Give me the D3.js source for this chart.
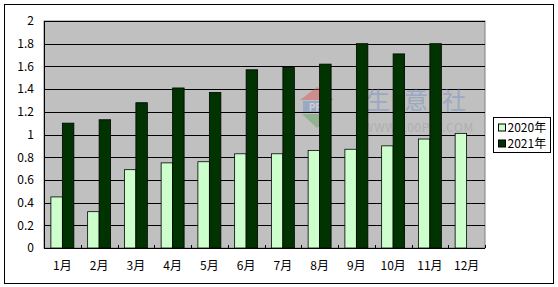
<!DOCTYPE html>
<html>
<head>
<meta charset="utf-8">
<script src="https://cdn.jsdelivr.net/npm/d3@7"></script>
<style>
  body { margin: 0; background: #fff; }
  text { font-family: "Noto Sans CJK SC", "DejaVu Sans", sans-serif; }
</style>
</head>
<body>
<div id="chart"></div>
<script>
// data
const months = ["1月", "2月", "3月", "4月", "5月", "6月", "7月", "8月", "9月", "10月", "11月", "12月"];
const series = ["2020年", "2021年"];
const values2020 = [0.45, 0.32, 0.69, 0.75, 0.76, 0.83, 0.83, 0.86, 0.87, 0.9, 0.96, 1.01];
const values2021 = [1.1, 1.13, 1.28, 1.41, 1.37, 1.57, 1.59, 1.62, 1.8, 1.71, 1.8, null];
const yTicks = [0, 0.2, 0.4, 0.6, 0.8, 1, 1.2, 1.4, 1.6, 1.8, 2];

const width = 558;
const height = 287;
const plot = { left: 44, right: 485, top: 21, bottom: 248 };
const colors = ["#CCFFCC", "#003300"];

const svg = d3
  .select("#chart")
  .append("svg")
  .attr("width", width)
  .attr("height", height);

// outer frame
svg.append("rect")
  .attr("x", 4.5).attr("y", 4.5)
  .attr("width", 549).attr("height", 279)
  .attr("fill", "#fff")
  .attr("stroke", "#000");

const x = d3.scaleBand()
  .domain(months)
  .range([plot.left, plot.right])
  .paddingInner(0.375)
  .paddingOuter(0.1875);

const xs = d3.scaleBand().domain(series).range([0, x.bandwidth()]);

const y = d3.scaleLinear().domain([0, 2]).range([plot.bottom, plot.top]);

// plot background
svg.append("rect")
  .attr("x", plot.left).attr("y", plot.top)
  .attr("width", plot.right - plot.left)
  .attr("height", plot.bottom - plot.top)
  .attr("fill", "#C0C0C0")
  .attr("stroke", "#808080");

// gridlines
svg.append("g")
  .selectAll("line")
  .data(yTicks.filter((d) => d > 0))
  .enter()
  .append("line")
  .attr("x1", plot.left).attr("x2", plot.right)
  .attr("y1", (d) => Math.round(y(d)) + 0.5)
  .attr("y2", (d) => Math.round(y(d)) + 0.5)
  .attr("stroke", "#000");

// watermark (faint, behind the bars)
const wm = svg.append("g").attr("opacity", 0.45);
wm.append("path").attr("d", "M300,100 L317,87 L334,100 Z").attr("fill", "#d9534f");
wm.append("rect").attr("x", 303).attr("y", 101).attr("width", 28).attr("height", 11).attr("fill", "#6a8cc7");
wm.append("text").attr("x", 317).attr("y", 110.5).attr("text-anchor", "middle")
  .attr("font-size", 10).attr("font-weight", "bold").attr("fill", "#e0e0e0").text("PPI");
wm.append("path").attr("d", "M302,114 L332,114 L317,128 Z").attr("fill", "#5aa55a");
wm.append("text").attr("x", 366).attr("y", 109).attr("font-size", 24)
  .attr("letter-spacing", 14).attr("fill", "#6a8cc7").text("生意社");
wm.append("text").attr("x", 363).attr("y", 132).attr("font-size", 12)
  .attr("letter-spacing", 0.6).attr("fill", "#9a9a9a").text("WWW.100PPI.COM");

// bars
const rows = months.map((m, i) => ({ month: m, vals: [values2020[i], values2021[i]] }));
const groups = svg.append("g")
  .selectAll("g")
  .data(rows)
  .enter()
  .append("g")
  .attr("transform", (d) => "translate(" + x(d.month) + ",0)");

groups.selectAll("rect")
  .data((d) => d.vals.map((v, j) => ({ key: series[j], value: v, j: j })).filter((e) => e.value != null))
  .enter()
  .append("rect")
  .attr("x", (d) => xs(d.key))
  .attr("y", (d) => y(d.value))
  .attr("width", xs.bandwidth())
  .attr("height", (d) => plot.bottom - y(d.value))
  .attr("fill", (d) => colors[d.j])
  .attr("stroke", "#000")
  .attr("stroke-width", 0.8);

// axes
const yAxis = d3.axisLeft(y).tickValues(yTicks).tickSize(0).tickPadding(10)
  .tickFormat((d) => String(d));
svg.append("g")
  .attr("transform", "translate(" + plot.left + ",0)")
  .call(yAxis)
  .call((g) => g.select(".domain").attr("stroke", "#000"))
  .selectAll("text")
  .attr("font-size", 12)
  .attr("fill", "#000");

const xAxis = d3.axisBottom(x).tickSize(0).tickPadding(13);
svg.append("g")
  .attr("transform", "translate(0," + plot.bottom + ")")
  .call(xAxis)
  .call((g) => g.select(".domain").remove())
  .selectAll("text")
  .attr("font-size", 12)
  .attr("fill", "#000");

svg.append("line")
  .attr("x1", plot.left).attr("x2", plot.right)
  .attr("y1", plot.bottom + 0.5).attr("y2", plot.bottom + 0.5)
  .attr("stroke", "#000");

// small inside ticks at category boundaries
const step = x.step();
svg.append("g")
  .selectAll("line")
  .data(months.slice(1).concat(["end"]))
  .enter()
  .append("line")
  .attr("x1", (d, i) => Math.round(plot.left + step * (i + 1)) + 0.5)
  .attr("x2", (d, i) => Math.round(plot.left + step * (i + 1)) + 0.5)
  .attr("y1", plot.bottom - 3)
  .attr("y2", plot.bottom)
  .attr("stroke", "#000");

// legend
const legend = svg.append("g").attr("transform", "translate(493.5,117.5)");
legend.append("rect")
  .attr("width", 57).attr("height", 35)
  .attr("fill", "#fff").attr("stroke", "#000");
const items = legend.selectAll(".legend")
  .data(series)
  .enter()
  .append("g")
  .attr("class", "legend")
  .attr("transform", (d, i) => "translate(5," + (10 + i * 16) + ")");
items.append("rect")
  .attr("x", 0).attr("y", -3.5)
  .attr("width", 7).attr("height", 7)
  .attr("fill", (d, i) => colors[i])
  .attr("stroke", "#000");
items.append("text")
  .attr("x", 9).attr("dy", ".35em")
  .attr("font-size", 12)
  .text((d) => d);
</script>
</body>
</html>
